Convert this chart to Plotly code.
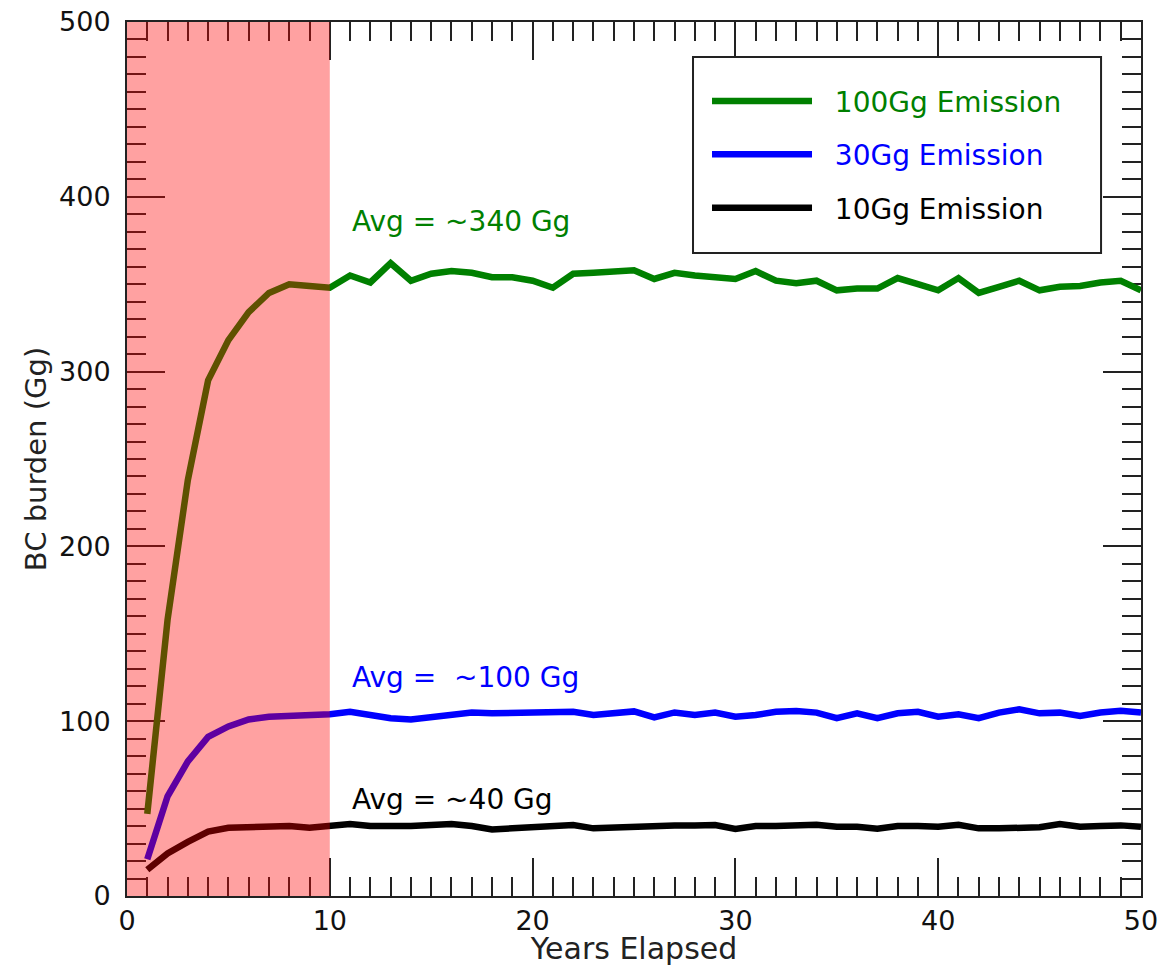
import plotly.graph_objects as go

years = list(range(1, 51))

green_100 = [47, 158, 238, 295, 318, 334, 345, 350, 349, 348,
             355, 351, 362, 352, 356, 357.5, 356.5, 354, 354, 352,
             348, 356, 356.5, 357, 358, 353, 356.5, 355, 354, 353,
             357.5, 352, 350.5, 352, 346.5, 347.5, 347.5, 353.5, 350, 346.5,
             353.5, 345, 348.5, 352, 346.5, 348.5, 349, 351, 352, 346.5]

blue_30 = [21, 57, 77, 91, 97, 101, 102.5, 103, 103, 104,
           105.4, 103.5, 101.7, 101, 102.2, 103, 105, 104.5, 104.9, 105,
           105.4, 105.4, 103.5, 104.5, 105.6, 102.2, 105, 103.5, 104.9, 102.6,
           103.5, 105.4, 105.8, 104.9, 101.7, 104.5, 101.7, 104.5, 105.4, 102.6,
           104, 101.7, 104.9, 106.8, 104.5, 104.9, 103, 105, 106, 104.9]

black_10 = [15, 24.4, 31, 36.8, 39, 39.2, 39.6, 40, 39, 40,
            41.2, 40, 39.6, 40, 40.6, 41.2, 40, 38.1, 38.7, 39.3,
            39.3, 40.6, 38.7, 39.3, 39.6, 40, 40.4, 40.4, 40.6, 38.4,
            40, 40, 40.4, 40.8, 39.6, 39.6, 38.5, 40, 40, 39.6,
            40.8, 38.7, 38.7, 38.7, 39.3, 41.2, 39.6, 40, 40.4, 39.6]

series_names = ["100Gg Emission", "30Gg Emission", "10Gg Emission"]
series_colors = ["#008000", "#0000ff", "#000000"]
avg_labels = ["Avg = ~340 Gg", "Avg =  ~100 Gg", "Avg = ~40 Gg"]
avg_label_y = [386, 125, 55]
spinup_end = 10

FONT = "DejaVu Sans"
NB = "\u00a0"

fig = go.Figure()
for name, color, vals in zip(series_names, series_colors, [green_100, blue_30, black_10]):
    fig.add_trace(go.Scatter(
        x=years, y=vals, mode="lines",
        name=f"{NB*2}<span style='color:{color}'>{name}</span>",
        legendgroup=name,
        line=dict(color=color, width=6.5),
    ))

for txt, color, yv in zip(avg_labels, series_colors, avg_label_y):
    fig.add_annotation(x=11, y=yv, xref="x", yref="y", text=txt, showarrow=False,
                       xanchor="left", yanchor="middle",
                       font=dict(family=FONT, size=28, color=color))

fig.add_shape(type="rect", xref="x", yref="y", x0=0, x1=spinup_end, y0=0, y1=500,
              fillcolor="red", opacity=0.37, line=dict(width=0), layer="above")

# legend frame
fig.add_shape(type="rect", xref="paper", yref="paper", x0=0.5582, x1=0.9606, y0=0.7357, y1=0.960,
              fillcolor="white", line=dict(color="#222", width=2), layer="above")

axis_common = dict(
    showline=True, linecolor="#222", linewidth=2, mirror="ticks",
    ticks="inside", tickcolor="#222", tickwidth=2, ticklen=38,
    showgrid=False, zeroline=False, automargin=False, layer="below traces",
    ticklabeloverflow="allow",
    tickfont=dict(family=FONT, size=27, color="#111"),
)

fig.update_xaxes(range=[0, 50], dtick=10, tick0=0,
                 minor=dict(dtick=1, ticklen=19, ticks="inside", tickcolor="#222", tickwidth=2),
                 title=dict(text="Years Elapsed", font=dict(family=FONT, size=30, color="#222"), standoff=3),
                 **axis_common)
fig.update_yaxes(range=[0, 500], dtick=100, tick0=0,
                 minor=dict(dtick=10, ticklen=19, ticks="inside", tickcolor="#222", tickwidth=2),
                 title=dict(text="BC burden (Gg)", font=dict(family=FONT, size=29, color="#222"), standoff=4),
                 ticklabelstandoff=9,
                 **axis_common)

fig.update_layout(
    width=1166, height=966,
    margin=dict(l=127, r=25, t=22, b=70),
    paper_bgcolor="white", plot_bgcolor="white",
    showlegend=True,
    legend=dict(x=0.572, y=0.938, xanchor="left", yanchor="top",
                bgcolor="rgba(0,0,0,0)", borderwidth=0,
                font=dict(family=FONT, size=28, color="#000"),
                itemwidth=100, traceorder="grouped", tracegroupgap=14),
)

fig.write_html("out.html", config={"displayModeBar": False},
               post_script="document.body.style.margin='0';document.body.style.overflow='hidden';")
